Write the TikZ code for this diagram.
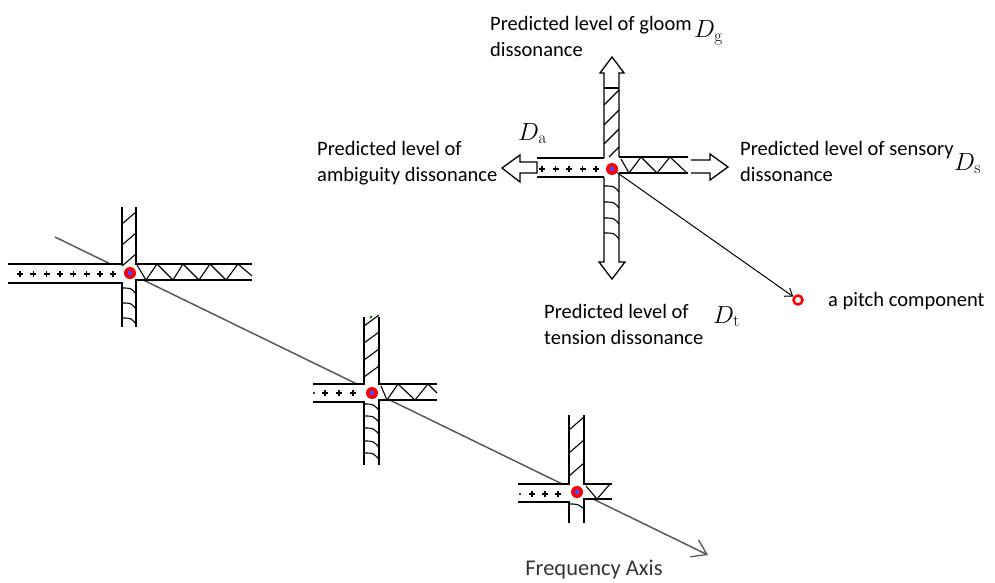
\documentclass[tikz,border=0pt]{standalone}
\usepackage[no-math]{fontspec}
\setmainfont{Carlito}
\usetikzlibrary{arrows.meta}

\newcommand{\lblfont}{\fontsize{20.5}{26}\selectfont}
\newcommand{\axfont}{\fontsize{22.5}{26}\selectfont}
\newcommand{\symfont}{\fontsize{23}{23}\selectfont}

\begin{document}
\begin{tikzpicture}[x=1pt, y=-1pt,
  bar/.style={line width=1.5pt},
  hatch/.style={line width=1.1pt},
  plus/.style={line width=1.4pt},
  blockarrow/.style={line width=1.3pt, fill=white, line join=miter},
  hub/.style={circle, fill=red, minimum size=12pt, inner sep=0pt},
  pitch/.style={circle, draw=red, line width=2.5pt, minimum size=9pt, inner sep=0pt},
  lbl/.style={anchor=west, align=left, inner sep=0pt, font=\lblfont},
  sym/.style={anchor=base west, inner sep=0pt, font=\symfont},
  axisline/.style={line width=1.5pt, black!65, -{Straight Barb[length=14pt, width=19pt, line width=1.3pt]}},
  pitchline/.style={line width=1pt, -{Straight Barb[length=7pt, width=10pt]}}]
  \useasboundingbox (0,0) rectangle (995,583);

  % frequency axis, behind the crosses
  \coordinate (fa0) at (55,237);
  \coordinate (fa1) at (708,555);
  \draw[axisline] (fa0) -- (fa1);
  \node[font=\axfont, text=black!80] (falabel) at (594,570) {Frequency Axis};

  % cross 1
  \fill[white] (8,264) rectangle (122,283);
  \fill[white] (136,264) rectangle (252,280);
  \fill[white] (122,207) rectangle (136,327);
  \draw[bar] (8,264) -- (122,264) -- (122,207);
  \draw[bar] (8,283) -- (122,283) -- (122,327);
  \draw[bar] (136,207) -- (136,264) -- (252,264);
  \draw[bar] (136,327) -- (136,280) -- (252,280);
  \foreach \x in {20,33.3,...,114} \draw[plus] (\x-3,274) -- (\x+3,274) (\x,271) -- (\x,277);
  \foreach \y in {212,233,254} \draw[hatch] (122,\y+12) -- (136,\y);
  \foreach \y in {288,303,318} \draw[hatch] (122,\y) .. controls (131,\y) .. (136,\y+6);
  \draw[hatch] (137,265) -- (146,280) -- (157,264) -- (173,280) -- (183,264) -- (199,280)
    -- (210,264) -- (226,280) -- (238,264) -- (252,276);
  \node[hub] (c1) at (130,273) {};
  \fill[blue!70] (c1) circle (2.5pt);

  % cross 2
  \fill[white] (313,384) rectangle (364,402);
  \fill[white] (379,384) rectangle (437,400);
  \fill[white] (364,317) rectangle (379,465);
  \draw[bar] (313,384) -- (364,384) -- (364,317);
  \draw[bar] (313,402) -- (364,402) -- (364,465);
  \draw[bar] (379,317) -- (379,384) -- (437,384);
  \draw[bar] (379,465) -- (379,400) -- (437,400);
  \foreach \x in {325,339,353} \draw[plus] (\x-3,393) -- (\x+3,393) (\x,390) -- (\x,396);
  \fill (314,393) circle (1.2pt);
  \foreach \y in {315,332,349,366} \draw[hatch] (364,\y+11) -- (379,\y);
  \foreach \y in {404,416,428,441,453} \draw[hatch] (364,\y) .. controls (373,\y) .. (379,\y+6);
  \draw[hatch] (381,386) -- (387,400) -- (398,384) -- (415,400) -- (428,384) -- (437,393);
  \fill[green!60!black] (371,317) circle (1.6pt);
  \node[hub] (c2) at (372,393) {};
  \fill[blue!70] (c2) circle (2.5pt);

  % cross 3
  \fill[white] (518,484) rectangle (569,502);
  \fill[white] (584,484) rectangle (612,499);
  \fill[white] (569,415) rectangle (584,523);
  \draw[bar] (518,484) -- (569,484) -- (569,415);
  \draw[bar] (518,502) -- (569,502) -- (569,523);
  \draw[bar] (584,415) -- (584,484) -- (612,484);
  \draw[bar] (584,523) -- (584,499) -- (612,499);
  \foreach \x in {532,545,558} \draw[plus] (\x-3,494) -- (\x+3,494) (\x,491) -- (\x,497);
  \fill (520,494) circle (1.2pt);
  \foreach \y in {417,440,463} \draw[hatch] (569,\y+13) -- (584,\y);
  \draw[hatch] (569,504) .. controls (578,504) .. (584,509);
  \draw[hatch] (586,486) -- (597,499) -- (610,484);
  \node[hub] (c3) at (577,492) {};
  \fill[blue!70] (c3) circle (2.5pt);

  % main cross with the four dissonance arrows
  \fill[white] (537,158) rectangle (604,177);
  \fill[white] (619,157) rectangle (688,173);
  \draw[blockarrow] (604,158) -- (604,73) -- (600,73) -- (612,57) -- (624,73) -- (619,73) -- (619,157);
  \draw[blockarrow] (604,177) -- (604,262) -- (599,262) -- (612,279) -- (625,262) -- (619,262) -- (619,173);
  \draw[blockarrow] (537,162) -- (520,162) -- (520,155) -- (502,168) -- (520,182) -- (520,173) -- (537,173) -- cycle;
  \draw[blockarrow] (691,160) -- (710,160) -- (710,154) -- (728,167) -- (710,180) -- (710,173) -- (691,173);
  \draw[bar] (604,88) -- (619,88);
  \draw[bar] (537,158) -- (604,158);
  \draw[bar] (537,177) -- (604,177);
  \draw[bar] (619,157) -- (688,157);
  \draw[bar] (619,173) -- (688,173);
  \foreach \x in {542,555.5,...,597} \draw[plus] (\x-3,169) -- (\x+3,169) (\x,166) -- (\x,172);
  \foreach \y in {90,110,129} \draw[hatch] (604,\y+15) -- (619,\y);
  \draw[hatch] (609,157) -- (619,147);
  \foreach \y in {186,202,218,233} \draw[hatch] (604,\y) .. controls (614,\y) .. (619,\y+6);
  \draw[hatch] (621,159) -- (629,173) -- (641,157) -- (657,173) -- (670,157) -- (687,173);
  \node[hub] (c0) at (612,169) {};
  \fill[blue!70] (c0) circle (2.5pt);

  % pitch component
  \node[pitch] (pc) at (798,300) {};
  \draw[pitchline] (c0) -- (pc);

  % labels
  \node[lbl] (gloom) at (490,36) {Predicted level of gloom\\dissonance};
  \node[sym] (dg) at (694,38) {$D_{\mathrm{g}}$};
  \node[lbl] (ambig) at (317,163) {Predicted level of\\ambiguity dissonance};
  \node[sym] (da) at (518,140) {$D_{\mathrm{a}}$};
  \node[lbl] (sensory) at (740,161) {Predicted level of sensory\\dissonance};
  \node[sym] (ds) at (954,170) {$D_{\mathrm{s}}$};
  \node[lbl] (tension) at (544,324) {Predicted level of\\tension dissonance};
  \node[sym] (dt) at (713,323) {$D_{\mathrm{t}}$};
  \node[lbl] (pclabel) at (828,301) {a pitch component};
\end{tikzpicture}
\end{document}
